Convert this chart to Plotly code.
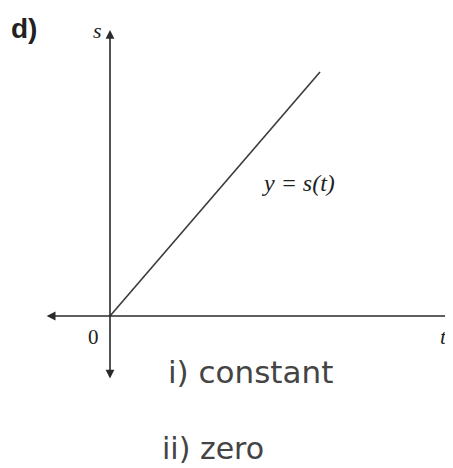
import plotly.graph_objects as go

# Data (math units): straight line through origin, y = s(t)
t_vals = [0.0, 5.25]
s_vals = [0.0, 6.1]

# Axis extents (math units)
t_axis = [-1.62, 8.6]
s_axis = [-1.6, 7.15]

PX = 40.0  # pixels per unit
PAD = 8.0  # page body margin in the browser
OX, OY = 110.0 - PAD, 316.0 - PAD
W, H = 453, 468

fig = go.Figure()
fig.add_trace(go.Scatter(x=t_vals, y=s_vals, mode="lines",
                         line=dict(color="#3a3a3a", width=1.6),
                         hoverinfo="skip", showlegend=False))

ax_col = "#2a2a2a"
# x axis (double arrow)
fig.add_annotation(x=t_axis[1], y=0, ax=t_axis[0], ay=0, xref="x", yref="y",
                   axref="x", ayref="y", text="", showarrow=True,
                   arrowhead=2, startarrowhead=2, arrowside="end+start",
                   arrowsize=1.1, startarrowsize=1.1, arrowwidth=1.6, arrowcolor=ax_col)
# y axis (double arrow)
fig.add_annotation(x=0, y=s_axis[1], ax=0, ay=s_axis[0], xref="x", yref="y",
                   axref="x", ayref="y", text="", showarrow=True,
                   arrowhead=2, startarrowhead=2, arrowside="end+start",
                   arrowsize=1.1, startarrowsize=1.1, arrowwidth=1.6, arrowcolor=ax_col)

def px2x(p):
    return (p - PAD - OX) / PX

def py2y(p):
    return (OY - (p - PAD)) / PX

serif = "Liberation Serif"
texts = [
    ("d)", 24, 28, "Liberation Sans", 28, "#222", True, False),
    ("s", 97, 30, serif, 22, "#222", False, True),
    ("0", 93, 337, serif, 21, "#222", False, False),
    ("t", 443, 336, serif, 22, "#222", False, True),
    ("y = s(t)", 298, 183, serif, 24, "#222", False, True),
]
for txt, x, y, fam, size, col, bold, ital in texts:
    t = txt
    if ital:
        t = "<i>" + t + "</i>"
    if bold:
        t = "<b>" + t + "</b>"
    fig.add_annotation(x=px2x(x), y=py2y(y), xref="x", yref="y", text=t,
                       showarrow=False, font=dict(family=fam, size=size, color=col))

hand = "DejaVu Sans"
fig.add_annotation(x=px2x(250), y=py2y(372), xref="x", yref="y",
                   text="i) constant", showarrow=False,
                   font=dict(family=hand, size=31, color="#444"))
fig.add_annotation(x=px2x(213), y=py2y(448), xref="x", yref="y",
                   text="ii) zero", showarrow=False,
                   font=dict(family=hand, size=30, color="#444"))

fig.update_layout(
    width=W, height=H, margin=dict(l=0, r=0, t=0, b=0),
    paper_bgcolor="white", plot_bgcolor="white",
    xaxis=dict(range=[px2x(PAD), px2x(W + PAD)], visible=False, fixedrange=True),
    yaxis=dict(range=[py2y(H + PAD), py2y(PAD)], visible=False, fixedrange=True),
    showlegend=False,
)
fig.write_html("out.html")
